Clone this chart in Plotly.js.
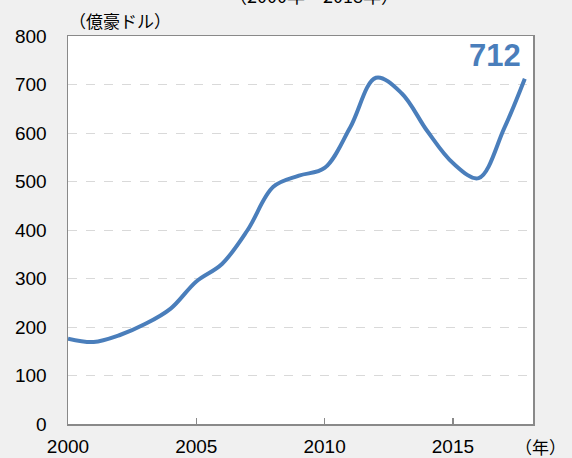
<!DOCTYPE html>
<html>
<head>
<meta charset="utf-8">
<script src="https://cdn.plot.ly/plotly-3.0.1.min.js"></script>
<style>
html,body{margin:0;padding:0;background:#f0f0f0;}
#chart{width:572px;height:458px;}
</style>
</head>
<body>
<div id="chart"></div>
<script>
// Data
var years = [2000, 2001, 2002, 2003, 2004, 2005, 2006, 2007, 2008, 2009, 2010, 2011, 2012, 2013, 2014, 2015, 2016, 2017, 2017.8];
var values = [176, 169, 183, 206, 238, 294, 330, 400, 489, 512, 528, 612, 714, 682, 604, 538, 507, 610, 712];
var xTickVals = [2000, 2005, 2010, 2015];
var xTickText = ['2000', '2005', '2010', '2015'];
var lastLabel = '712';
var titleText = '（2000年～2018年）';
var yUnit = '（億豪ドル）';
var xUnit = '（年）';

var FONT = 'Liberation Sans, Arial, "Noto Sans CJK JP", sans-serif';
var JFONT = '"Noto Sans CJK JP", "Liberation Sans", sans-serif';
var BLUE = '#4a7ebb';

var trace = {
  x: years,
  y: values,
  type: 'scatter',
  mode: 'lines',
  line: {color: BLUE, width: 4, shape: 'spline', smoothing: 1},
  hoverinfo: 'skip'
};

var layout = {
  width: 572,
  height: 458,
  margin: {l: 68, r: 39, t: 36, b: 34},
  paper_bgcolor: '#f0f0f0',
  plot_bgcolor: '#ffffff',
  showlegend: false,
  font: {family: FONT, color: '#000000', size: 19},
  xaxis: {
    range: [2000, 2018.12],
    tickvals: xTickVals,
    ticktext: xTickText,
    ticks: 'inside',
    ticklen: 6,
    tickwidth: 1.5,
    tickcolor: '#898989',
    showline: true,
    linecolor: '#898989',
    linewidth: 1.5,
    mirror: true,
    showgrid: false,
    zeroline: false,
    tickfont: {family: FONT, size: 19, color: '#000'},
    ticklabelstandoff: 5
  },
  yaxis: {
    range: [0, 800],
    dtick: 100,
    tick0: 0,
    ticks: '',
    showline: true,
    linecolor: '#898989',
    linewidth: 1.5,
    mirror: true,
    showgrid: true,
    gridcolor: '#d9d9d9',
    gridwidth: 1,
    griddash: 'dash',
    zeroline: false,
    tickfont: {family: FONT, size: 19, color: '#000'},
    ticklabelstandoff: 16
  },
  annotations: [
    {
      text: lastLabel, xref: 'paper', yref: 'paper',
      x: 0.978, y: 0.95, xanchor: 'right', yanchor: 'middle',
      showarrow: false,
      font: {family: FONT, size: 31, color: BLUE, weight: 'bold'}
    },
    {
      text: titleText, xref: 'paper', yref: 'paper',
      x: 0.53, y: 1.105, xanchor: 'center', yanchor: 'middle',
      showarrow: false,
      font: {family: JFONT, size: 18, color: '#000'}
    },
    {
      text: yUnit, xref: 'paper', yref: 'paper',
      x: -0.002, y: 1.04, xanchor: 'left', yanchor: 'middle',
      showarrow: false,
      font: {family: JFONT, size: 17, color: '#000'}
    },
    {
      text: xUnit, xref: 'paper', yref: 'paper',
      x: 1.017, y: -0.058, xanchor: 'center', yanchor: 'middle',
      showarrow: false,
      font: {family: JFONT, size: 17, color: '#000'}
    }
  ]
};

Plotly.newPlot('chart', [trace], layout, {displayModeBar: false, staticPlot: true});
</script>
</body>
</html>
